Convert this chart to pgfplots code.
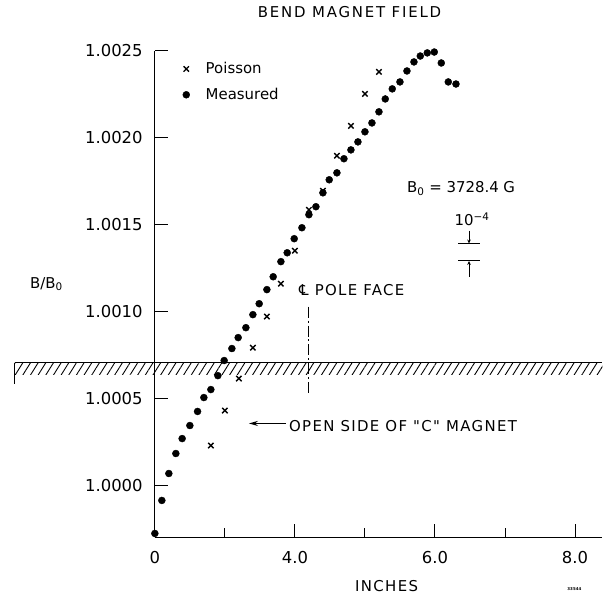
\documentclass[border=0pt]{standalone}
\usepackage{fontspec}
\setmainfont{DejaVu Sans}
\newfontfamily\capsfont[LetterSpace=9]{DejaVu Sans}
\newfontfamily\titlefont[LetterSpace=12]{DejaVu Sans}
\usepackage{pgfplots}
\pgfplotsset{compat=1.18}
\usetikzlibrary{patterns.meta,arrows.meta}
% y values are (B/B0 - 1) x 10^4 ; x in inches
\pgfplotstableread{
x y
2.00 -2.78
2.10 -0.88
2.20 0.67
2.30 1.82
2.39 2.68
2.50 3.43
2.61 4.24
2.70 5.04
2.80 5.50
2.90 6.30
2.99 7.17
3.10 7.86
3.19 8.49
3.30 9.06
3.40 9.81
3.49 10.44
3.60 11.25
3.69 11.99
3.80 12.86
3.89 13.37
3.99 14.18
4.10 14.81
4.20 15.56
4.30 16.02
4.40 16.82
4.49 17.57
4.60 17.97
4.70 18.78
4.80 19.29
4.90 19.75
5.00 20.33
5.10 20.84
5.20 21.48
5.29 22.22
5.39 22.80
5.50 23.20
5.60 23.83
5.70 24.35
5.79 24.69
5.89 24.87
5.99 24.92
6.09 24.29
6.19 23.20
6.30 23.08
}\measured
\pgfplotstableread{
x y
2.8 2.28
3.0 4.29
3.2 6.13
3.4 7.91
3.6 9.70
3.8 11.59
4.0 13.49
4.2 15.84
4.4 16.94
4.6 18.95
4.8 20.67
5.0 22.51
5.2 23.78
}\poisson
\begin{document}
\begin{tikzpicture}
\begin{axis}[
  scale only axis, width=448bp, height=487bp,
  xmin=2, xmax=8.39, ymin=-2.99, ymax=25,
  axis x line=bottom, axis y line=left,
  axis line style={-, line width=1.1pt},
  clip=false,
  xtick={2,4,6,8}, xticklabels={0,4.0,6.0,8.0},
  minor xtick={3,5,7},
  ytick={0,5,10,15,20,25},
  yticklabels={1.0000,1.0005,1.0010,1.0015,1.0020,1.0025},
  tick align=inside,
  major tick length=13.5bp, minor tick length=9bp,
  tick style={line width=1pt, black},
  ticklabel style={font=\fontsize{16.5}{18}\selectfont},
  xticklabel style={inner sep=0pt, anchor=north, yshift=-14bp},
  yticklabel style={inner sep=0pt, anchor=east, xshift=-12bp},
  xlabel={INCHES},
  xlabel style={at={(axis description cs:0.518,-0.101)}, anchor=center, font=\capsfont\fontsize{15}{17}\selectfont},
  ylabel={B/B\textsubscript{0}},
  ylabel style={rotate=-90, at={(axis description cs:-0.242,0.52)}, anchor=center, font=\fontsize{15}{17}\selectfont},
  title={BEND MAGNET FIELD},
  title style={at={(axis description cs:0.435,1.067)}, anchor=center, font=\titlefont\fontsize{15}{17}\selectfont},
  legend style={at={(axis description cs:0.062,0.98)}, anchor=north west, draw=none, fill=none,
     font=\fontsize{15}{17}\selectfont, row sep=9bp, column sep=14bp, inner sep=0pt},
  legend cell align=left,
]
\addplot[only marks, mark=x, mark size=3.8bp, line width=1.4pt, black] table {\poisson};
\addlegendentry{Poisson}
\addplot[only marks, mark=*, mark size=3.5bp, black] table {\measured};
\addlegendentry{Measured}
% hatched boundary (open side of C magnet)
\addplot[forget plot, draw=none, pattern={Lines[angle=58,distance=6.5bp,line width=0.9pt]}]
  coordinates {(0,7.05) (8.39,7.05) (8.39,6.36) (0,6.36)} -- cycle;
\addplot[forget plot, line width=1.3pt, black] coordinates {(0,7.05) (8.39,7.05)};
\addplot[forget plot, line width=1pt, black] coordinates {(0,7.05) (0,5.8)};
% pole face centre line
\addplot[forget plot, line width=1pt, black, dash pattern=on 11pt off 3pt on 2pt off 3pt] coordinates {(4.19,10.27) (4.19,5.21)};
\node[anchor=base west, inner sep=0pt, font=\capsfont\fontsize{15}{17}\selectfont] at (axis cs:4.057,10.89) {℄ POLE FACE};
% open side annotation
\draw[-{Stealth[length=9bp,width=5bp]}, line width=1.3pt] (axis cs:3.87,3.55) -- (axis cs:3.343,3.55);
\node[anchor=base west, inner sep=0pt, font=\capsfont\fontsize{15}{17}\selectfont] at (axis cs:3.914,3.09) {OPEN SIDE OF "C" MAGNET};
% B0 annotation and scale bar
\node[anchor=base west, inner sep=0pt, font=\fontsize{15}{17}\selectfont] at (axis cs:5.6,16.82) {B\textsubscript{0} = 3728.4 G};
\node[anchor=base, inner sep=0pt, font=\fontsize{15}{17}\selectfont] at (axis cs:6.53,14.92) {10\textsuperscript{−4}};
\draw[-{Stealth[length=4bp,width=3.5bp]}, line width=0.9pt] (axis cs:6.486,14.65) -- (axis cs:6.486,13.9);
\draw[line width=1pt] (axis cs:6.33,13.9) -- (axis cs:6.64,13.9);
\draw[line width=1pt] (axis cs:6.33,12.9) -- (axis cs:6.64,12.9);
\draw[-{Stealth[length=4bp,width=3.5bp]}, line width=0.9pt] (axis cs:6.486,12.0) -- (axis cs:6.486,12.9);
\node[anchor=center, inner sep=0pt, font=\fontsize{4}{5}\selectfont\bfseries] at (rel axis cs:0.9375,-0.107) {33544};
\path (rel axis cs:-0.346,-0.1197) rectangle (rel axis cs:1.0,1.1041);
\end{axis}
\end{tikzpicture}
\end{document}
